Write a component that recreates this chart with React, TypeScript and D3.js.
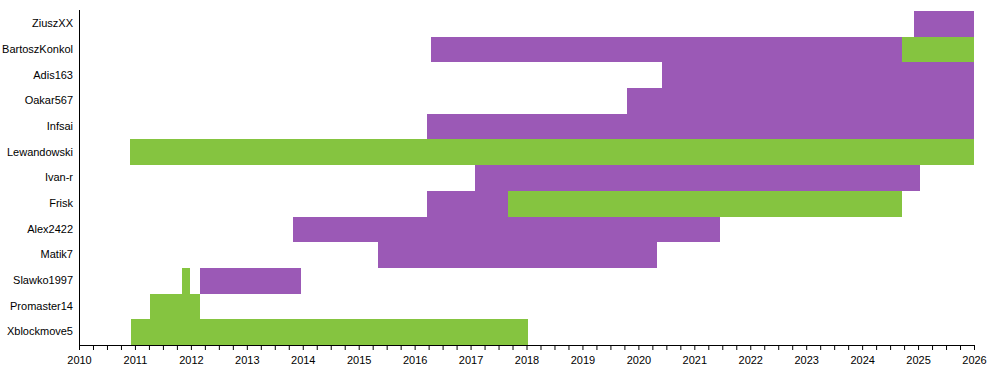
import { useEffect, useRef } from 'react'
import * as d3 from 'd3'

// rows, top to bottom
const users = [
  'ZiuszXX', 'BartoszKonkol', 'Adis163', 'Oakar567', 'Infsai', 'Lewandowski',
  'Ivan-r', 'Frisk', 'Alex2422', 'Matik7', 'Slawko1997', 'Promaster14', 'Xblockmove5',
]

// [user, from, to] in decimal years
const purpleSpans: [string, number, number][] = [
  ['ZiuszXX', 2024.93, 2026],
  ['BartoszKonkol', 2016.29, 2024.71],
  ['Adis163', 2020.42, 2026],
  ['Oakar567', 2019.8, 2026],
  ['Infsai', 2016.22, 2026],
  ['Ivan-r', 2017.08, 2025.03],
  ['Frisk', 2016.22, 2017.67],
  ['Alex2422', 2013.83, 2021.46],
  ['Matik7', 2015.35, 2020.33],
  ['Slawko1997', 2012.16, 2013.97],
]

const greenSpans: [string, number, number][] = [
  ['BartoszKonkol', 2024.71, 2026],
  ['Lewandowski', 2010.91, 2026],
  ['Frisk', 2017.67, 2024.71],
  ['Slawko1997', 2011.84, 2011.98],
  ['Promaster14', 2011.27, 2012.16],
  ['Xblockmove5', 2010.93, 2018.03],
]

const yearStart = 2010
const yearEnd = 2026

export default function App() {
  const ref = useRef<SVGSVGElement>(null)
  const width = 993
  const height = 375

  useEffect(() => {
    const margin = { top: 11, right: 19, bottom: 30, left: 79 }
    const w = width - margin.left - margin.right
    const h = height - margin.top - margin.bottom
    const svg = d3.select(ref.current)
    svg.selectAll('*').remove()
    const root = svg.append('g').attr('transform', `translate(${margin.left},${margin.top})`)

    const x = d3.scaleLinear().domain([yearStart, yearEnd]).range([0, w])
    const y = d3.scaleBand().domain(users).range([0, h]).padding(0)

    const spans = [
      ...purpleSpans.map(d => ({ user: d[0], from: d[1], to: d[2], color: '#9b59b6' })),
      ...greenSpans.map(d => ({ user: d[0], from: d[1], to: d[2], color: '#85c440' })),
    ]

    root.selectAll('rect.span').data(spans).enter().append('rect')
      .attr('class', 'span')
      .attr('x', d => x(d.from))
      .attr('y', d => y(d.user)!)
      .attr('width', d => x(d.to) - x(d.from))
      .attr('height', y.bandwidth())
      .attr('fill', d => d.color)
      .attr('shape-rendering', 'crispEdges')

    // quarterly ticks, labels on whole years
    const tickVals = d3.range(yearStart * 4, yearEnd * 4 + 1).map(v => v / 4)
    const xAxis = root.append('g')
      .attr('transform', `translate(0,${h})`)
      .call(d3.axisBottom(x).tickValues(tickVals).tickSize(5).tickSizeOuter(0)
        .tickFormat(d => (Number(d) % 1 === 0 ? String(d) : '')))
    xAxis.select('.domain').attr('stroke', '#000')
    xAxis.selectAll('line').attr('stroke', '#000')
    xAxis.selectAll('text')
      .attr('dy', '1em')
      .style('font-family', 'Arial, "Liberation Sans", sans-serif')
      .style('font-size', '11px')
      .attr('fill', '#000')

    // left axis line only
    root.append('line')
      .attr('x1', 0).attr('x2', 0).attr('y1', -1).attr('y2', h)
      .attr('stroke', '#000')
      .attr('shape-rendering', 'crispEdges')

    root.selectAll('text.user').data(users).enter().append('text')
      .attr('class', 'user')
      .attr('x', -6)
      .attr('y', d => y(d)! + y.bandwidth() / 2)
      .attr('dy', '0.3em')
      .attr('text-anchor', 'end')
      .style('font-family', 'Arial, "Liberation Sans", sans-serif')
      .style('font-size', '11px')
      .attr('fill', '#000')
      .text(d => d)
  }, [])

  return (
    <svg
      ref={ref}
      width={width}
      height={height}
      style={{ position: 'absolute', left: 0, top: 0, background: '#fff' }}
    />
  )
}
